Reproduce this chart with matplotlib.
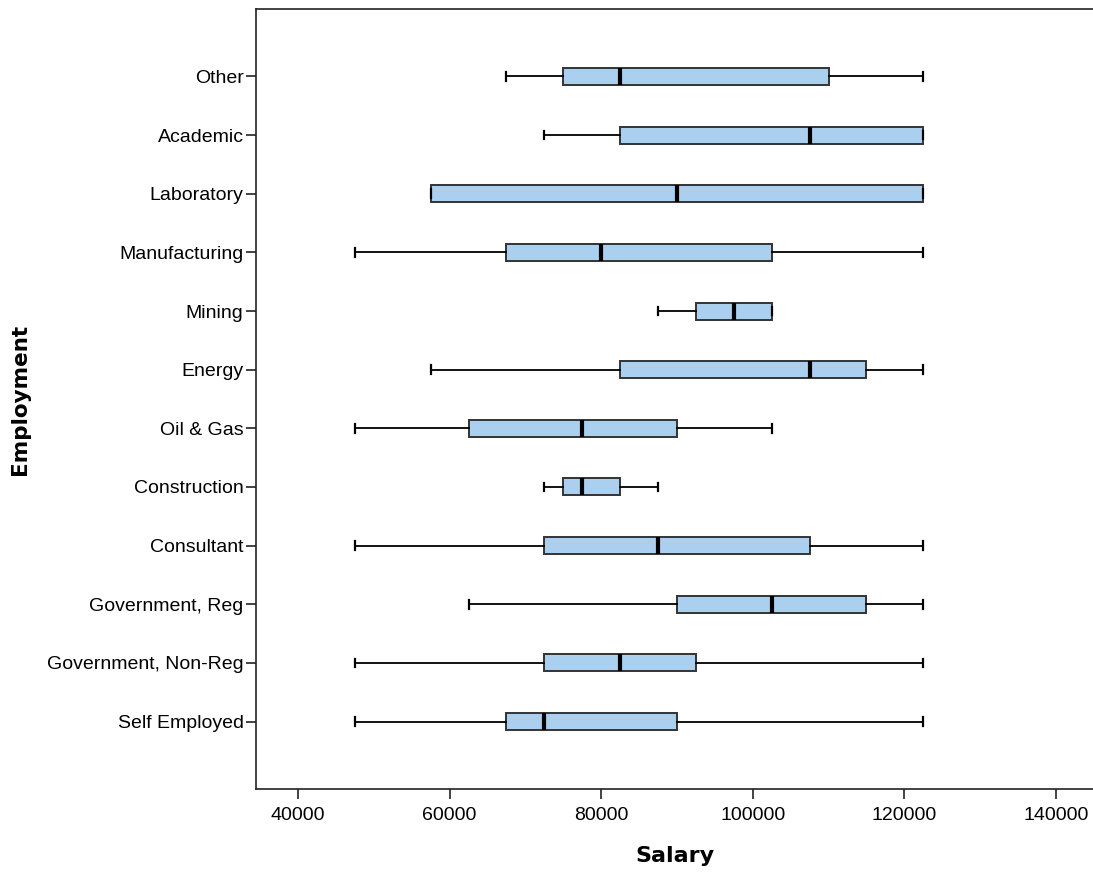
import matplotlib
matplotlib.use('Agg')
import matplotlib.pyplot as plt

plt.rcParams['font.family'] = ['Liberation Sans', 'DejaVu Sans']

# Employment categories, listed top to bottom as in the chart
categories = ['Other', 'Academic', 'Laboratory', 'Manufacturing', 'Mining', 'Energy',
              'Oil & Gas', 'Construction', 'Consultant', 'Government, Reg',
              'Government, Non-Reg', 'Self Employed']

# Box plot summary values (salary)
whisk_low = [67500, 72500, 57500, 47500, 87500, 57500, 47500, 72500, 47500, 62500, 47500, 47500]
q1 = [75000, 82500, 57500, 67500, 92500, 82500, 62500, 75000, 72500, 90000, 72500, 67500]
medians = [82500, 107500, 90000, 80000, 97500, 107500, 77500, 77500, 87500, 102500, 82500, 72500]
q3 = [110000, 122500, 122500, 102500, 102500, 115000, 90000, 82500, 107500, 115000, 92500, 90000]
whisk_high = [122500, 122500, 122500, 122500, 102500, 122500, 102500, 87500, 122500, 122500, 122500, 122500]

x_ticks = [40000, 60000, 80000, 100000, 120000, 140000]

stats = []
for i, name in enumerate(categories):
    stats.append({'label': name, 'whislo': whisk_low[i], 'q1': q1[i], 'med': medians[i],
                  'q3': q3[i], 'whishi': whisk_high[i], 'fliers': []})

n = len(categories)
positions = list(range(n, 0, -1))

fig = plt.figure(figsize=(10.93, 8.75), dpi=100)
ax = fig.add_axes([256 / 1093, 1 - 789 / 875, 1 - 256 / 1093, (789 - 9) / 875])

ax.bxp(stats, positions=positions, vert=False, widths=0.29, capwidths=0.15,
       patch_artist=True, showfliers=False,
       boxprops=dict(facecolor='#abcfef', edgecolor='#333333', linewidth=1.4),
       medianprops=dict(color='black', linewidth=3.0, solid_capstyle='butt'),
       whiskerprops=dict(color='black', linewidth=1.3),
       capprops=dict(color='black', linewidth=1.6))

ax.set_xlim(34450, 144900)
ax.set_ylim(-0.15, n + 1.15)
ax.set_xticks(x_ticks)
ax.set_xticklabels([str(v) for v in x_ticks])
ax.set_yticks(positions)
ax.set_yticklabels(categories)

ax.tick_params(axis='both', direction='out', length=7, width=1.2, colors='#222222',
               labelsize=14, labelcolor='black')
ax.tick_params(axis='y', pad=2)
ax.tick_params(axis='x', pad=6)

for side in ['left', 'top', 'bottom']:
    ax.spines[side].set_linewidth(1.2)
    ax.spines[side].set_color('#222222')
ax.spines['right'].set_visible(False)

ax.set_xlabel('Salary', family='DejaVu Sans', fontweight='bold', fontsize=16, labelpad=16)
ax.set_ylabel('Employment', family='DejaVu Sans', fontweight='bold', fontsize=15.5, labelpad=12)

fig.savefig('out.png', dpi=100)
